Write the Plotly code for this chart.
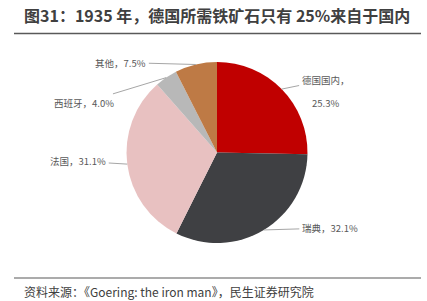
import math
import plotly.graph_objects as go

labels = ["德国国内", "瑞典", "法国", "西班牙", "其他"]
values = [25.3, 32.1, 31.1, 4.0, 7.5]
colors = ["#C00000", "#3F4043", "#E8C1C1", "#B8B8B8", "#BE7A45"]

W, H = 427, 301
CX, CY, R = 217, 152.5, 90.5

# label text offsets (pixels) from slice edge point; second-line offsets
offsets = [(44, -9), (66, -2), (-49, -3), (-82, 25), (-75, -2)]
line1 = ["德国国内，", "瑞典，32.1%", "法国，31.1%", "西班牙，4.0%", "其他，7.5%"]
line2 = ["25.3%", None, None, None, None]

fig = go.Figure()
fig.add_trace(go.Pie(
    labels=labels, values=values, sort=False, direction="clockwise", rotation=0,
    marker=dict(colors=colors, line=dict(color="white", width=0)),
    textinfo="none", hoverinfo="label+percent", showlegend=False,
    domain=dict(x=[(CX - R) / W, (CX + R) / W], y=[1 - (CY + R) / H, 1 - (CY - R) / H]),
))

lab_font = dict(family="Noto Sans CJK SC", size=9.5, color="#595959")
total = sum(values)
cum = 0
annotations = []
for lab, v, off, t1, t2 in zip(labels, values, offsets, line1, line2):
    mid = (cum + v / 2) / total * 2 * math.pi
    cum += v
    ex = CX + R * math.sin(mid)
    ey = CY - R * math.cos(mid)
    annotations.append(dict(
        x=ex / W, y=1 - ey / H, xref="paper", yref="paper",
        ax=off[0], ay=off[1], text=t1, showarrow=True, arrowhead=0,
        arrowwidth=1, arrowcolor="#A6A6A6", standoff=0, startstandoff=1,
        font=lab_font, align="center",
    ))
    if t2:
        annotations.append(dict(
            x=ex / W, y=1 - ey / H, xref="paper", yref="paper",
            xshift=off[0], yshift=-(off[1] + 14), text=t2, showarrow=False,
            font=lab_font, align="center",
        ))

annotations.append(dict(
    x=22 / W, y=1 - 15 / H, xref="paper", yref="paper", xanchor="left", yanchor="middle",
    text="<b>图31：1935 年，德国所需铁矿石只有 25%来自于国内</b>", showarrow=False,
    font=dict(family="Noto Sans CJK SC", size=16, color="#404040"),
))
annotations.append(dict(
    x=22 / W, y=1 - 291 / H, xref="paper", yref="paper", xanchor="left", yanchor="middle",
    text="资料来源：《Goering: the iron man》，民生证券研究院", showarrow=False,
    font=dict(family="Noto Sans CJK SC", size=12, color="#404040"),
))

shapes = [
    dict(type="line", xref="paper", yref="paper", x0=14 / W, x1=421 / W,
         y0=1 - 33.5 / H, y1=1 - 33.5 / H, line=dict(color="#595959", width=1.5)),
    dict(type="line", xref="paper", yref="paper", x0=14 / W, x1=421 / W,
         y0=1 - 278 / H, y1=1 - 278 / H, line=dict(color="#595959", width=1.2)),
]

fig.update_layout(
    width=W, height=H, margin=dict(l=0, r=0, t=0, b=0),
    paper_bgcolor="white", plot_bgcolor="white",
    annotations=annotations, shapes=shapes,
)
fig.write_html("out.html")
